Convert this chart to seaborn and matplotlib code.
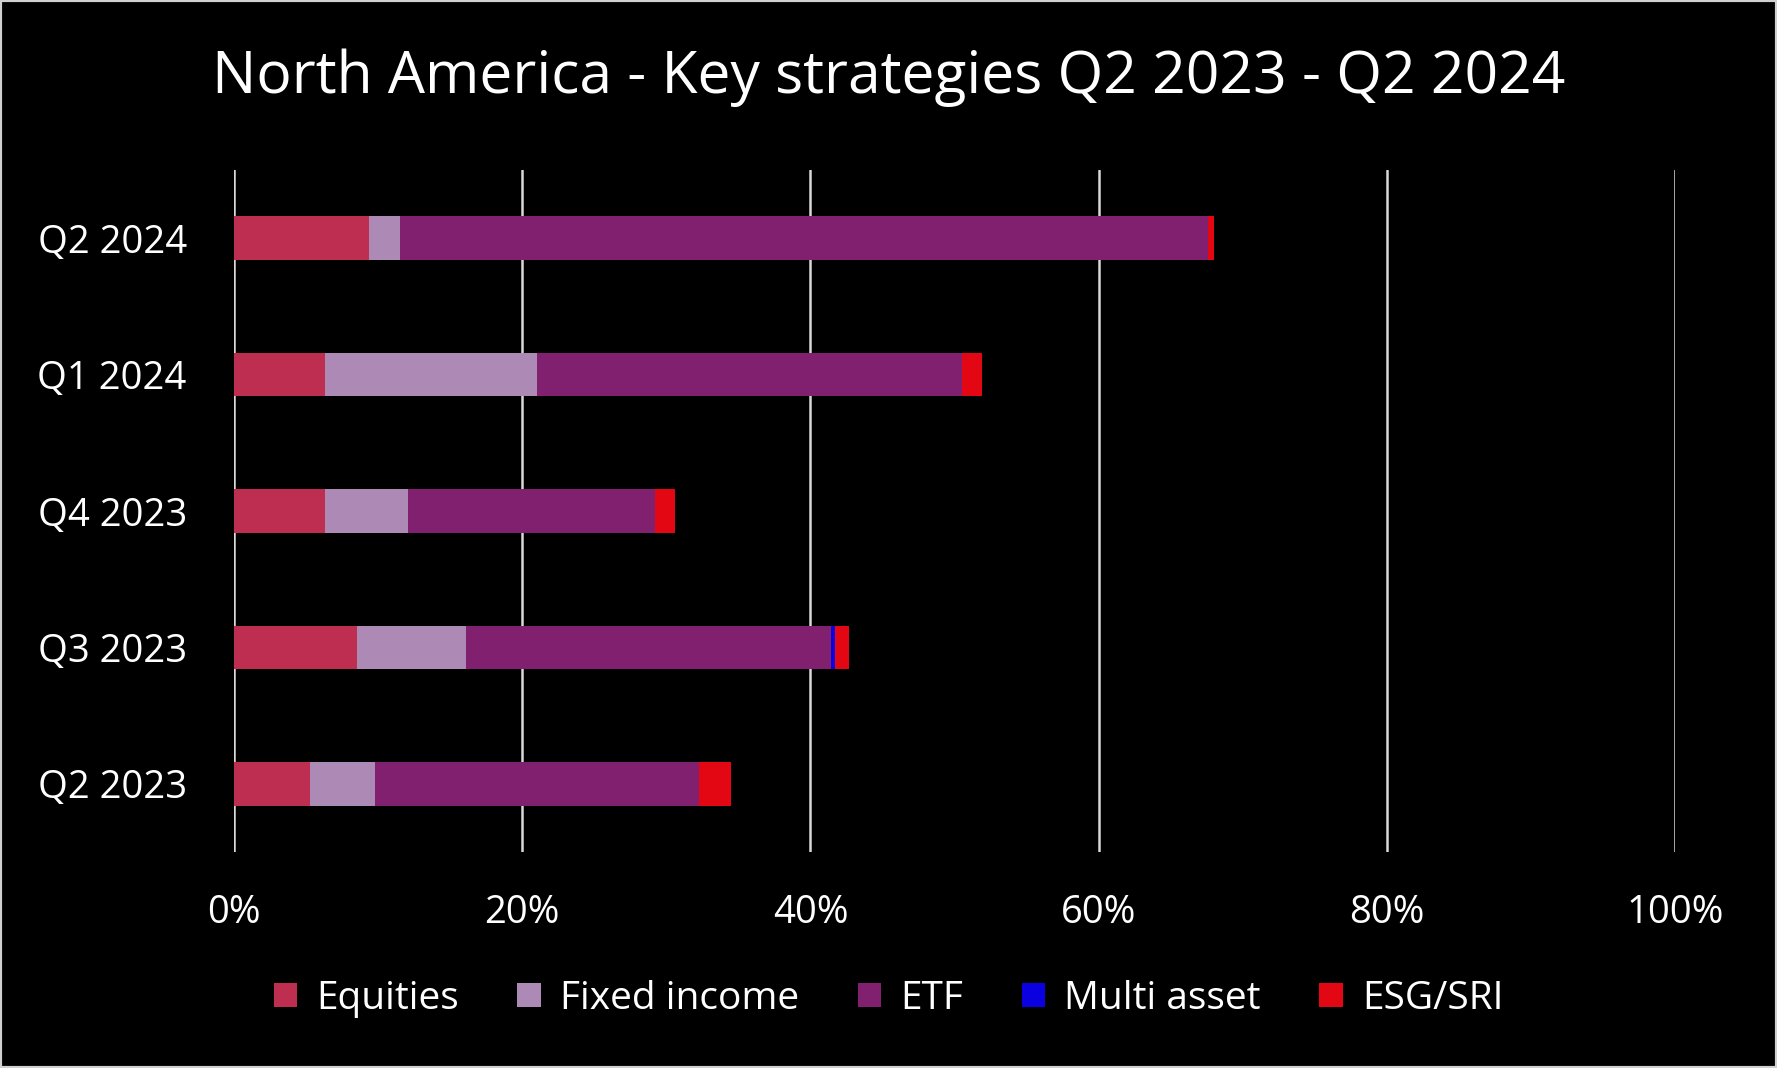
import pandas as pd
import matplotlib
matplotlib.use('Agg')
import matplotlib.pyplot as plt
import seaborn as sns
from matplotlib.patches import Patch
from matplotlib.ticker import PercentFormatter

# data (share of flows, %)
quarters = ['Q2 2024', 'Q1 2024', 'Q4 2023', 'Q3 2023', 'Q2 2023']
strategies = ['Equities', 'Fixed income', 'ETF', 'Multi asset', 'ESG/SRI']
equities = [9.4, 6.3, 6.3, 8.5, 5.3]
fixed_income = [2.1, 14.7, 5.8, 7.6, 4.5]
etf = [56.1, 29.5, 17.1, 25.3, 22.5]
multi_asset = [0.0, 0.0, 0.0, 0.3, 0.0]
esg_sri = [0.4, 1.4, 1.4, 1.0, 2.2]
colors = ['#BE2E50', '#AD8AB6', '#822070', '#0A00E0', '#E30613']


def get_figure_data():
    df = pd.DataFrame({
        'Quarter': quarters,
        'Equities': equities,
        'Fixed income': fixed_income,
        'ETF': etf,
        'Multi asset': multi_asset,
        'ESG/SRI': esg_sri,
    })
    # cumulative totals so the stacked bars can be drawn back to front
    cum = df[strategies].cumsum(axis=1)
    cum['Quarter'] = df['Quarter']
    return cum


def draw_figure(cum):
    sns.set_theme(style='white')
    plt.rcParams['font.family'] = ['Open Sans', 'DejaVu Sans']
    fig = plt.figure(figsize=(17.77, 10.68), dpi=100, facecolor='black')
    ax = fig.add_axes([0.1317, 0.2022, 0.8109, 0.6386])
    ax.set_facecolor('black')

    for name, color in reversed(list(zip(strategies, colors))):
        sns.barplot(data=cum, x=name, y='Quarter', order=quarters, color=color,
                    orient='h', width=0.32, saturation=1, linewidth=0, ax=ax)

    ax.set_xlim(0, 100)
    ax.set_ylim(4.5, -0.5)
    ax.set_xticks(range(0, 101, 20))
    ax.xaxis.set_major_formatter(PercentFormatter(decimals=0))
    ax.grid(axis='x', color='#d9d9d9', linewidth=1.8)
    ax.set_axisbelow(True)
    for s in ax.spines.values():
        s.set_visible(False)
    ax.tick_params(axis='both', length=0, colors='white', labelsize=27.5)
    ax.tick_params(axis='y', pad=34)
    ax.tick_params(axis='x', pad=30)
    ax.set_xlabel('')
    ax.set_ylabel('')

    fig.text(0.5, 0.927, 'North America - Key strategies Q2 2023 - Q2 2024',
             ha='center', va='center', color='white', fontsize=42.3)

    handles = [Patch(facecolor=c, edgecolor='none', label=s) for s, c in zip(strategies, colors)]
    fig.legend(handles=handles, loc='center', bbox_to_anchor=(0.5, 0.065), ncol=5,
               frameon=False, fontsize=28, labelcolor='white', handlelength=0.6,
               handleheight=0.6, handletextpad=0.5, columnspacing=1.5)

    # thin light border around the picture
    fig.patches.append(plt.Rectangle((0, 0), 1, 1, transform=fig.transFigure,
                                     fill=False, edgecolor='#d0d0d0', linewidth=3))
    fig.savefig('out.png', dpi=100, facecolor='black')


def main():
    cum = get_figure_data()
    draw_figure(cum)


if __name__ == '__main__':
    main()
